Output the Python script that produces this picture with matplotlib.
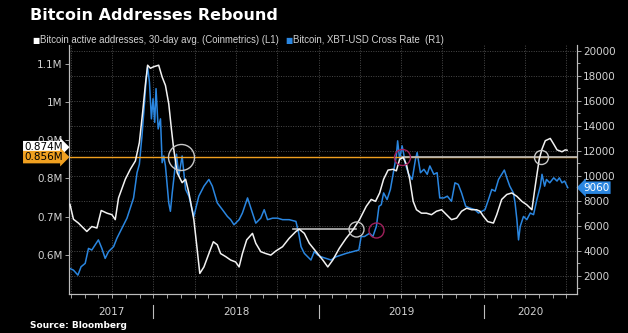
import matplotlib
matplotlib.use("Agg")
import matplotlib.pyplot as plt
import matplotlib.transforms as mtransforms
import numpy as np

# ---------------- data (time in decimal years) ----------------
addr_t = [2017.495, 2017.516, 2017.546, 2017.597, 2017.627, 2017.658, 2017.684, 2017.719, 2017.749, 2017.769,
          2017.789, 2017.830, 2017.860, 2017.891, 2017.915, 2017.935, 2017.951, 2017.965, 2017.982, 2018.002,
          2018.032, 2018.053, 2018.073, 2018.093, 2018.109, 2018.123, 2018.144, 2018.174, 2018.195, 2018.215,
          2018.245, 2018.261, 2018.281, 2018.306, 2018.336, 2018.363, 2018.387, 2018.407, 2018.438, 2018.468,
          2018.498, 2018.519, 2018.539, 2018.565, 2018.600, 2018.620, 2018.650, 2018.681, 2018.711, 2018.742,
          2018.782, 2018.822, 2018.863, 2018.883, 2018.914, 2018.944, 2018.985, 2019.026, 2019.056, 2019.086,
          2019.126, 2019.167, 2019.208, 2019.248, 2019.289, 2019.319, 2019.345, 2019.370, 2019.394, 2019.421,
          2019.451, 2019.471, 2019.491, 2019.512, 2019.532, 2019.552, 2019.573, 2019.593, 2019.623, 2019.653,
          2019.684, 2019.714, 2019.745, 2019.775, 2019.805, 2019.836, 2019.866, 2019.897, 2019.927, 2019.957,
          2019.978, 2019.998, 2020.024, 2020.059, 2020.079, 2020.109, 2020.140, 2020.170, 2020.201, 2020.231,
          2020.261, 2020.292, 2020.312, 2020.336, 2020.353, 2020.373, 2020.403, 2020.424, 2020.444, 2020.474,
          2020.494, 2020.505]
# active addresses, millions
addr_v = [0.732, 0.693, 0.683, 0.661, 0.674, 0.670, 0.716, 0.709, 0.705, 0.692,
          0.749, 0.798, 0.824, 0.846, 0.894, 0.974, 1.044, 1.097, 1.089, 1.093,
          1.097, 1.066, 1.044, 0.996, 0.930, 0.877, 0.815, 0.789, 0.798, 0.762,
          0.692, 0.630, 0.551, 0.568, 0.603, 0.634, 0.626, 0.603, 0.595, 0.586,
          0.581, 0.568, 0.603, 0.639, 0.656, 0.630, 0.608, 0.603, 0.599, 0.610,
          0.621, 0.643, 0.661, 0.667, 0.656, 0.630, 0.608, 0.586, 0.568, 0.586,
          0.617, 0.643, 0.665, 0.692, 0.727, 0.745, 0.740, 0.762, 0.798, 0.822,
          0.824, 0.820, 0.850, 0.855, 0.837, 0.798, 0.740, 0.718, 0.709, 0.709,
          0.705, 0.714, 0.718, 0.705, 0.692, 0.696, 0.714, 0.722, 0.718, 0.718,
          0.714, 0.701, 0.687, 0.683, 0.705, 0.745, 0.758, 0.762, 0.753, 0.740,
          0.731, 0.718, 0.780, 0.850, 0.877, 0.899, 0.905, 0.890, 0.875, 0.870,
          0.875, 0.874]

price_t = [2017.495, 2017.516, 2017.543, 2017.562, 2017.587, 2017.607, 2017.627, 2017.667, 2017.688, 2017.708,
           2017.728, 2017.759, 2017.779, 2017.810, 2017.840, 2017.860, 2017.880, 2017.901, 2017.915, 2017.931,
           2017.945, 2017.956, 2017.965, 2017.976, 2017.988, 2017.998, 2018.008, 2018.016, 2018.029, 2018.043,
           2018.053, 2018.063, 2018.073, 2018.093, 2018.103, 2018.114, 2018.123, 2018.140, 2018.154, 2018.174,
           2018.195, 2018.215, 2018.245, 2018.275, 2018.306, 2018.336, 2018.357, 2018.387, 2018.418, 2018.448,
           2018.468, 2018.488, 2018.519, 2018.539, 2018.570, 2018.600, 2018.620, 2018.650, 2018.671, 2018.691,
           2018.722, 2018.752, 2018.782, 2018.822, 2018.863, 2018.880, 2018.894, 2018.914, 2018.934, 2018.954,
           2018.974, 2018.995, 2019.015, 2019.046, 2019.076, 2019.106, 2019.137, 2019.167, 2019.208, 2019.244,
           2019.258, 2019.278, 2019.309, 2019.329, 2019.350, 2019.366, 2019.380, 2019.394, 2019.415, 2019.435,
           2019.455, 2019.471, 2019.479, 2019.491, 2019.506, 2019.516, 2019.526, 2019.546, 2019.567, 2019.587,
           2019.597, 2019.617, 2019.638, 2019.658, 2019.674, 2019.698, 2019.718, 2019.734, 2019.759, 2019.780,
           2019.805, 2019.826, 2019.846, 2019.866, 2019.891, 2019.917, 2019.947, 2019.968, 2019.988, 2020.008,
           2020.029, 2020.049, 2020.069, 2020.090, 2020.109, 2020.125, 2020.140, 2020.158, 2020.180, 2020.190,
           2020.201, 2020.211, 2020.221, 2020.241, 2020.261, 2020.282, 2020.302, 2020.322, 2020.343, 2020.353,
           2020.369, 2020.380, 2020.400, 2020.424, 2020.444, 2020.458, 2020.474, 2020.490, 2020.509]
# XBT-USD
price_v = [2590, 2460, 2060, 2730, 3000, 4200, 4070, 4880, 4200, 3400,
           3940, 4340, 5010, 5820, 6620, 7430, 8240, 10260, 10930, 13220,
           15640, 17660, 18730, 17520, 14570, 16180, 14290, 16990, 13760, 14570,
           11060, 11600, 10800, 7840, 7170, 8640, 9720, 11740, 9990, 11600,
           8920, 8380, 6760, 8380, 9180, 9720, 9180, 7840, 7300, 6760,
           6500, 6090, 6500, 7030, 8240, 7030, 6220, 6620, 7300, 6500,
           6620, 6620, 6500, 6500, 6360, 5410, 4340, 3800, 3530, 3270,
           3940, 3670, 3530, 3400, 3270, 3530, 3670, 3800, 3940, 4070,
           5150, 5150, 5410, 5150, 5950, 7570, 7700, 8640, 8110, 8920,
           10390, 11600, 12810, 11340, 12410, 11740, 10930, 10130, 9720, 11340,
           11870, 10260, 10530, 10130, 10800, 10130, 10260, 8240, 8240, 8380,
           7970, 9450, 9320, 8640, 7570, 7430, 7300, 7030, 7170, 7300,
           8110, 8920, 8780, 9720, 10130, 10470, 9850, 9180, 8640, 7840,
           6500, 4880, 5950, 6760, 6500, 7030, 6900, 8110, 9180, 10130,
           9180, 9720, 9450, 9850, 9590, 9850, 9450, 9590, 9060]

left_ticks = [0.6, 0.7, 0.8, 0.9, 1.0, 1.1]
left_labels = ["0.6M", "0.7M", "0.8M", "0.9M", "1M", "1.1M"]
right_ticks = [2000, 4000, 6000, 8000, 10000, 12000, 14000, 16000, 18000, 20000]
years = [2017, 2018, 2019, 2020]

ref_level = 0.856          # orange reference line
last_addr = 0.874
last_price = 9060
title = "Bitcoin Addresses Rebound"
leg1 = "Bitcoin active addresses, 30-day avg. (Coinmetrics) (L1)"
leg2 = "Bitcoin, XBT-USD Cross Rate  (R1)"
source = "Source: Bloomberg"

# ---------------- styling ----------------
W, H = 628, 333
BG = "black"
WHITE = "#f2f2f2"
BLUE = "#2a86e0"
ORANGE = "#f0a020"
GRID = "#4a4a4a"
AX = "#bdbdbd"
TXT = "#d2d2d2"
MAG = "#a0205c"

plt.rcParams["font.family"] = ["DejaVu Sans"]
fig = plt.figure(figsize=(W / 100, H / 100), dpi=100, facecolor=BG)

x0, x1, ytop, ybot = 69, 577, 45, 294
ax = fig.add_axes([x0 / W, 1 - ybot / H, (x1 - x0) / W, (ybot - ytop) / H])
ax2 = ax.twinx()
ax.set_zorder(ax2.get_zorder() + 1)
ax.patch.set_visible(False)
ax2.patch.set_visible(True)
ax2.patch.set_facecolor(BG)

xmin, xmax = 2017.489, 2020.565
ax.set_xlim(xmin, xmax)
ax2.set_xlim(xmin, xmax)
ax.set_ylim(0.497, 1.150)
ax2.set_ylim(550, 20480)

# grid (right-axis horizontal, quarterly vertical)
quarters = np.arange(2017.5, 2020.6, 0.25)
months = np.arange(2017.5, 2020.57, 1 / 12)
for q in quarters:
    ax2.axvline(q, color=GRID, lw=0.7, ls=(0, (1, 1.5)), zorder=0)
for yv in right_ticks:
    ax2.axhline(yv, color=GRID, lw=0.7, ls=(0, (1, 1.5)), zorder=0)

# series
ax2.plot(price_t, price_v, color=BLUE, lw=1.1, zorder=3)
ax.plot(addr_t, addr_v, color=WHITE, lw=1.1, zorder=4)

# reference lines
ax.axhline(ref_level, color=ORANGE, lw=1.0, zorder=2)
ax.plot([2019.506, xmax], [ref_level, ref_level], color="#bbbbbb", lw=1.2, zorder=2.5)
ax.plot([2018.845, 2019.228], [0.668, 0.668], color="#bbbbbb", lw=1.2, zorder=2.5)

# circles
for (cx, cy, r, c) in [(2018.170, 0.856, 13, "#c8c8c8"), (2019.228, 0.668, 7.5, "#c8c8c8"),
                       (2019.350, 0.665, 7.5, MAG), (2019.506, 0.856, 8, MAG),
                       (2020.350, 0.856, 7, "#c8c8c8")]:
    ax.plot([cx], [cy], marker="o", ms=2 * r * 0.72, mfc="none", mec=c, mew=1.0, zorder=5)

# spines
for a in (ax, ax2):
    a.spines["top"].set_visible(False)
    for s in ("left", "right", "bottom"):
        a.spines[s].set_color(AX)
        a.spines[s].set_linewidth(0.8)

# ticks
ax.set_xticks(quarters)
ax.set_xticks(months, minor=True)
ax.tick_params(axis="x", which="both", direction="out", colors=AX, length=3, width=0.6, labelbottom=False)
ax2.tick_params(axis="x", which="both", bottom=False, labelbottom=False)
ax.set_yticks(left_ticks)
ax.set_yticklabels(left_labels)
ax.tick_params(axis="y", direction="out", length=3, width=0.6, color=AX, labelcolor=TXT, labelsize=7.5, pad=1.5)
ax2.set_yticks(right_ticks)
ax2.set_yticklabels([str(v) for v in right_ticks])
ax2.set_yticks(np.arange(1000, 20001, 1000), minor=True)
ax2.tick_params(axis="y", which="major", direction="out", length=3, width=0.6, color=AX, labelcolor=TXT,
                labelsize=7.5, pad=1.5)
ax2.tick_params(axis="y", which="minor", direction="out", length=2, width=0.6, color=AX)

# year labels & separators
trans = mtransforms.blended_transform_factory(ax.transData, ax.transAxes)
ph = ybot - ytop
for yr in years:
    lo = max(yr, xmin)
    hi = min(yr + 1, xmax)
    ax.text((lo + hi) / 2, -(312 - ybot) / ph, str(yr), transform=trans, ha="center", va="center",
            color=TXT, fontsize=7.5)
    if yr > years[0]:
        ax.plot([yr, yr], [-(305 - ybot) / ph, -(318 - ybot) / ph], transform=trans, color=AX, lw=0.8,
                clip_on=False)

# value labels
tl = mtransforms.blended_transform_factory(ax.transAxes, ax.transData)
ax.text(-0.012, last_addr + 0.008, "0.874M", transform=tl, ha="right", va="center", fontsize=7.5, color="black",
        bbox=dict(boxstyle="rarrow,pad=0.12", fc="white", ec="none"), zorder=10, clip_on=False)
ax.text(-0.012, ref_level, "0.856M", transform=tl, ha="right", va="center", fontsize=7.5, color="black",
        bbox=dict(boxstyle="rarrow,pad=0.12", fc=ORANGE, ec="none"), zorder=11, clip_on=False)
tr = mtransforms.blended_transform_factory(ax2.transAxes, ax2.transData)
ax2.text(1.012, last_price, str(last_price), transform=tr, ha="left", va="center", fontsize=7.5, color="white",
         bbox=dict(boxstyle="larrow,pad=0.12", fc=BLUE, ec="none"), zorder=10, clip_on=False)

# title, legend, source
fig.text(30 / W, 1 - 16 / H, title, color="white", fontsize=11.5, fontweight="bold", va="center", ha="left")
fig.text(32 / W, 1 - 40 / H, "\u25A0", color="white", fontsize=5.5, va="center", ha="left")
fig.text(40 / W, 1 - 40 / H, leg1, color=TXT, fontsize=6.9, va="center", ha="left",
         family=["Liberation Sans", "DejaVu Sans"])
fig.text(285 / W, 1 - 40 / H, "\u25A0", color=BLUE, fontsize=5.5, va="center", ha="left")
fig.text(293 / W, 1 - 40 / H, leg2, color=TXT, fontsize=6.9, va="center", ha="left",
         family=["Liberation Sans", "DejaVu Sans"])
fig.text(30 / W, 1 - 325 / H, source, color="white", fontsize=6.5, fontweight="bold", va="center", ha="left")

fig.savefig("out.png", dpi=100, facecolor=BG)
